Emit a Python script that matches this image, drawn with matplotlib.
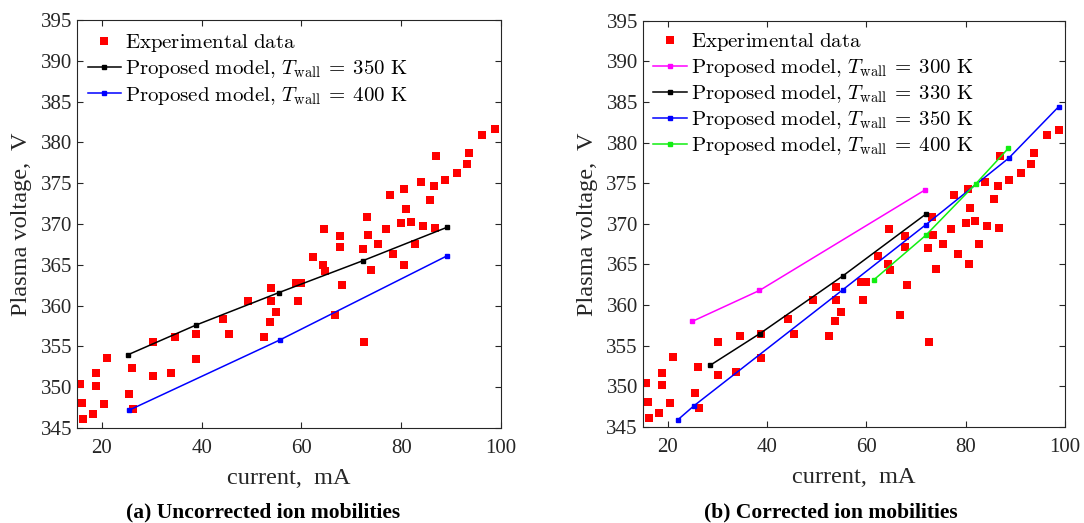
import matplotlib.pyplot as plt
import numpy as np

plt.rcParams['font.family'] = 'Liberation Serif'
plt.rcParams['mathtext.fontset'] = 'cm'

# experimental data (current in mA, plasma voltage in V)
exp_current = [15.6, 16.1, 16.3, 18.3, 18.9, 18.9, 20.5, 21.1, 25.5, 26.1,
               26.3, 30.2, 30.2, 33.8, 34.6, 38.8, 38.8, 44.2, 45.4, 49.3,
               52.5, 53.7, 53.9, 53.9, 54.9, 58.9, 59.9, 59.3, 62.3, 64.4,
               64.8, 64.6, 66.8, 67.8, 67.8, 68.2, 72.4, 72.6, 73.2, 73.4,
               74.0, 75.4, 77.0, 78.4, 80.0, 80.6, 80.9, 81.9, 82.7, 84.3,
               86.7, 77.7, 80.5, 83.9, 85.7, 86.5, 86.9, 88.7, 91.1, 93.1,
               93.7, 96.3, 98.8]
exp_voltage = [350.4, 348.1, 346.1, 346.7, 351.7, 350.2, 348.0, 353.6, 349.2, 352.4,
               347.3, 355.5, 351.4, 351.8, 356.2, 356.5, 353.5, 358.3, 356.5, 360.6,
               356.2, 358.0, 362.2, 360.6, 359.2, 362.8, 362.8, 360.6, 366.0, 365.0,
               364.3, 369.4, 358.8, 368.5, 367.2, 362.5, 367.0, 355.5, 370.9, 368.6,
               364.4, 367.5, 369.4, 366.3, 370.1, 365.0, 371.9, 370.3, 367.5, 369.7,
               369.5, 373.6, 374.3, 375.2, 373.0, 374.7, 378.3, 375.4, 376.2, 377.3,
               378.7, 380.9, 381.6]

# (a) uncorrected mobilities
a_350_i = [25.3, 38.8, 55.5, 72.3, 89.2]
a_350_v = [354.0, 357.6, 361.6, 365.5, 369.6]
a_400_i = [25.5, 55.7, 89.2]
a_400_v = [347.2, 355.8, 366.1]

# (b) corrected mobilities
b_300_i = [25.0, 38.5, 71.9]
b_300_v = [358.0, 361.8, 374.2]
b_330_i = [28.6, 38.6, 55.3, 72.0]
b_330_v = [352.6, 356.5, 363.6, 371.2]
b_350_i = [22.1, 25.3, 55.3, 72.0, 88.7, 98.7]
b_350_v = [345.9, 347.6, 361.9, 369.9, 378.1, 384.4]
b_400_i = [61.5, 72.0, 82.0, 88.6]
b_400_v = [363.1, 368.6, 374.9, 379.3]

yticks = np.arange(345, 396, 5)
xticks = [20, 40, 60, 80, 100]


def tw(t):
    return r'$\mathrm{Proposed\ model,}\,T_{\mathrm{wall}}\:=\:%d\ \mathrm{K}$' % t


def style(ax):
    ax.set_xlim(15, 100)
    ax.set_ylim(345, 395)
    ax.set_xticks(xticks)
    ax.set_yticks(yticks)
    ax.tick_params(direction='in', top=True, right=True, length=4,
                   labelsize=15, colors='#262626', width=0.8)
    ax.tick_params(axis='x', pad=8)
    for s in ax.spines.values():
        s.set_color('#262626')
        s.set_linewidth(0.8)
    ax.set_xlabel('current,  mA', fontsize=17.5, color='#262626')
    ax.set_ylabel('Plasma voltage,  V', fontsize=17.5, color='#262626')
    ax.xaxis.set_label_coords(0.5, -0.098)
    ax.yaxis.set_label_coords(-0.106, 0.5)


fig = plt.figure(figsize=(10.84, 5.23), dpi=100)
ax1 = fig.add_axes([0.0710, 0.1816, 0.3911, 0.7801])
ax2 = fig.add_axes([0.5929, 0.1836, 0.3896, 0.7769])

ms_exp = 5.2
ms_mod = 3.5
lw = 1.1

ax1.plot(exp_current, exp_voltage, 's', color='red', markersize=ms_exp,
         markeredgewidth=0, label=r'$\mathrm{Experimental\ data}$')
ax1.plot(a_350_i, a_350_v, 's-', color='black', lw=lw, markersize=ms_mod, label=tw(350))
ax1.plot(a_400_i, a_400_v, 's-', color='blue', lw=lw, markersize=ms_mod, label=tw(400))

ax2.plot(exp_current, exp_voltage, 's', color='red', markersize=ms_exp,
         markeredgewidth=0, label=r'$\mathrm{Experimental\ data}$')
ax2.plot(b_300_i, b_300_v, 's-', color='magenta', lw=lw, markersize=ms_mod, label=tw(300))
ax2.plot(b_330_i, b_330_v, 's-', color='black', lw=lw, markersize=ms_mod, label=tw(330))
ax2.plot(b_350_i, b_350_v, 's-', color='blue', lw=lw, markersize=ms_mod, label=tw(350))
ax2.plot(b_400_i, b_400_v, 's-', color='#11EE11', lw=lw, markersize=ms_mod, label=tw(400))

style(ax1)
style(ax2)
ax1.legend(loc='upper left', bbox_to_anchor=(0.025, 0.97), frameon=False,
           fontsize=15, handlelength=1.6, handletextpad=0.2,
           labelspacing=0.2, borderpad=0, borderaxespad=0)
ax2.legend(loc='upper left', bbox_to_anchor=(0.025, 0.975), frameon=False,
           fontsize=15, handlelength=1.6, handletextpad=0.2,
           labelspacing=0.2, borderpad=0, borderaxespad=0)

fig.text(0.243, 0.021, '(a) Uncorrected ion mobilities', ha='center', va='center',
         fontsize=15.5, fontweight='bold')
fig.text(0.766, 0.021, '(b) Corrected ion mobilities', ha='center', va='center',
         fontsize=15.5, fontweight='bold')

fig.savefig('out.png', dpi=100)
